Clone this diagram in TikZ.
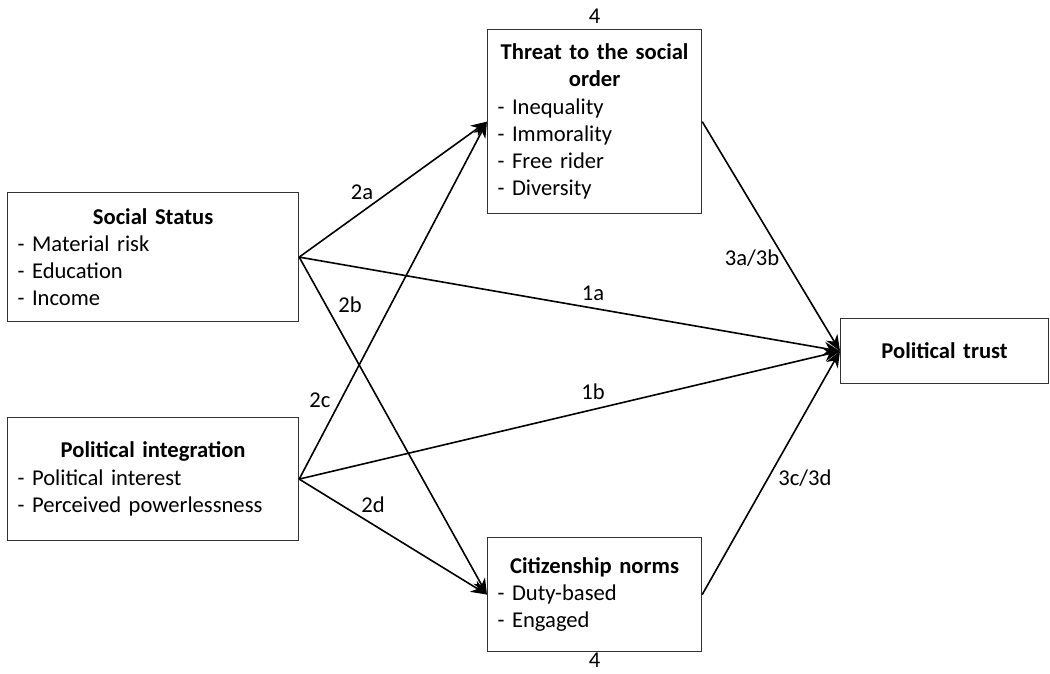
\documentclass[tikz,border=0pt]{standalone}
\usepackage{fontspec}
\setmainfont{Carlito}
\usepackage{tikz}
\usetikzlibrary{arrows.meta}

\tikzset{
  factor/.style={draw=black!80, line width=1.2pt, rectangle, anchor=north west,
    inner xsep=10pt, inner ysep=0pt, align=left,
    font=\fontsize{22.6}{27.3}\selectfont},
  path/.style={line width=1.6pt, -{Stealth[length=16pt,width=13pt,inset=5pt]}},
  coef/.style={inner sep=0pt, font=\fontsize{22.6}{27}\selectfont}
}
\newcommand{\facthead}[1]{{\centering\bfseries #1\par}}

\begin{document}
\begin{tikzpicture}[x=1pt, y=-1pt]
\useasboundingbox (0,0) rectangle (1050,673);

\node[factor, minimum width=291pt, minimum height=129pt, text width=271pt](SS) at (7,192){
	\facthead{Social Status}
	- Material risk\\
	- Education\\
	- Income};
\node[factor, minimum width=291pt, minimum height=123pt, text width=271pt](PI) at (7,417){
	\facthead{Political integration}
	- Political interest\\
	- Perceived powerlessness};
\node[factor, minimum width=214pt, minimum height=184pt, text width=194pt](TH) at (487,29){
	\facthead{Threat to the social order}
	- Inequality\\
	- Immorality\\
	- Free rider\\
	- Diversity};
\node[factor, minimum width=214pt, minimum height=114pt, text width=194pt](CN) at (487,537){
	\facthead{Citizenship norms}
	- Duty-based\\
	- Engaged};
\node[factor, minimum width=208pt, minimum height=65pt, text width=188pt](PT) at (840,318){
	\facthead{Political trust}};

\node[coef, above of=TH, node distance=105pt](TH4){4};
\node[coef, below of=CN, node distance=66pt](CN4){4};

\draw[path] (SS.east) -- (TH.west);
\draw[path] (SS.east) -- (CN.west);
\draw[path] (SS.east) -- (PT.west);
\draw[path] (PI.east) -- (TH.west);
\draw[path] (PI.east) -- (PT.west);
\draw[path] (PI.east) -- (CN.west);
\draw[path] (TH.east) -- (PT.west);
\draw[path] (CN.east) -- (PT.west);

\node[coef](L2a) at (362,192){2a};
\node[coef](L2b) at (350,305){2b};
\node[coef](L2c) at (320,400){2c};
\node[coef](L2d) at (373,505){2d};
\node[coef](L1a) at (593,293){1a};
\node[coef](L1b) at (593,392){1b};
\node[coef](L3ab) at (752,258){3a/3b};
\node[coef](L3cd) at (805,478){3c/3d};
\end{tikzpicture}
\end{document}
